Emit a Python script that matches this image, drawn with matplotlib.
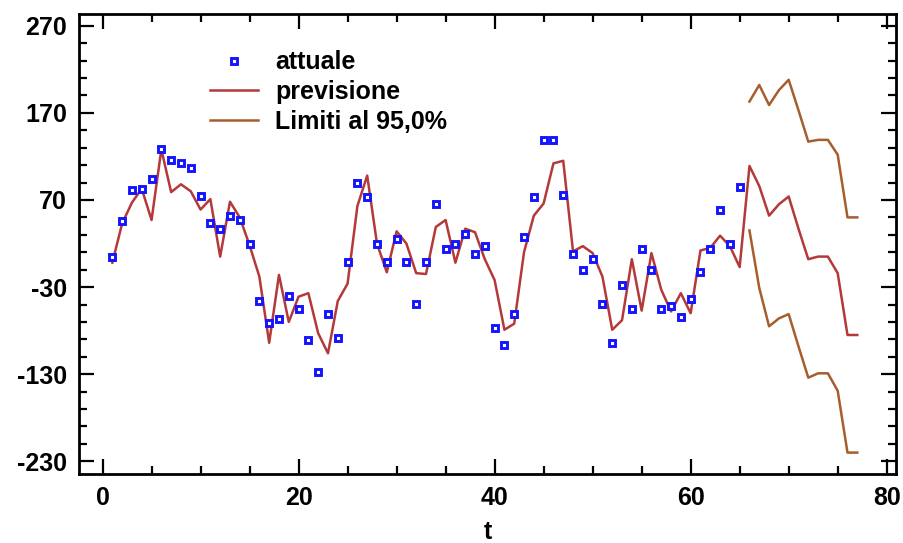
import matplotlib
matplotlib.use("Agg")
import matplotlib.pyplot as plt
from matplotlib.ticker import MultipleLocator, FixedLocator

# ---- data ----
t_actual = list(range(1, 66))
actual = [5, 46, 82, 83, 94, 128, 116, 113, 107, 74,
          43, 37, 52, 47, 20, -46, -71, -67, -40, -55,
          -91, -128, -61, -89, -1, 89, 73, 20, -1, 25,
          -1, -49, -1, 65, 14, 19, 31, 8, 17, -77,
          -97, -61, 28, 73, 139, 139, 76, 8, -10, 2,
          -49, -94, -28, -55, 14, -10, -55, -52, -64, -44,
          -13, 14, 59, 19, 85]

t_forecast = list(range(1, 78))
forecast = [-2, 43, 67, 83, 47, 128, 79, 88, 80, 59,
            71, 5, 68, 50, 18, -18, -94, -16, -70, -41,
            -37, -83, -106, -46, -26, 63, 98, 20, -13, 34,
            20, -14, -15, 39, 47, -2, 37, 33, 2, -22,
            -79, -72, 10, 52, 66, 112, 115, 11, 17, 9,
            -18, -79, -68, 2, -57, 9, -33, -58, -37, -60,
            12, 15, 29, 17, -7,
            109, 86, 52, 65, 74, 37, 2, 5, 5, -14, -85, -85]

t_limits = list(range(66, 78))
upper = [183, 202, 179, 196, 208, 173, 137, 139, 139, 122, 50, 50]
lower = [35, -31, -75, -66, -61, -98, -134, -129, -129, -149, -220, -220]

xticks = [0, 20, 40, 60, 80]
yticks = [-230, -130, -30, 70, 170, 270]

# ---- style ----
plt.rcParams['font.family'] = ['Liberation Sans', 'DejaVu Sans']
plt.rcParams['font.weight'] = 'bold'
plt.rcParams['axes.unicode_minus'] = False

W, H = 904, 543
fig = plt.figure(figsize=(W/100, H/100), dpi=100)
L, R, T, B = 79.5, 896.5, 14, 473.5
ax = fig.add_axes([L/W, 1-B/H, (R-L)/W, (B-T)/H])

red = '#B3393A'
brown = '#A65E2E'

ax.plot(t_actual, actual, linestyle='none', marker='s', markersize=4.3,
        markerfacecolor='white', markeredgecolor='#1414FF', markeredgewidth=2.1,
        label='attuale', zorder=3)
ax.plot(t_forecast, forecast, color=red, linewidth=1.8, label='previsione', zorder=2)
ax.plot(t_limits, upper, color=brown, linewidth=1.8, label='Limiti al 95,0%', zorder=2)
ax.plot(t_limits, lower, color=brown, linewidth=1.8, zorder=2)

ax.set_xlim(-2.35, 81.0)
ax.set_ylim(-244, 283.5)

ax.xaxis.set_major_locator(FixedLocator(xticks))
ax.xaxis.set_minor_locator(MultipleLocator(5))
ax.yaxis.set_major_locator(FixedLocator(yticks))
ax.yaxis.set_minor_locator(FixedLocator([v for v in range(-250, 290, 20)]))

ax.tick_params(which='both', direction='in', top=True, right=True, width=1.6,
               labelsize=18, colors='black')
ax.tick_params(which='major', length=11)
ax.tick_params(which='minor', length=6)
for lab in ax.get_xticklabels() + ax.get_yticklabels():
    lab.set_fontweight('bold')
ax.tick_params(axis='x', pad=9)
ax.tick_params(axis='y', pad=9)

for s in ax.spines.values():
    s.set_linewidth(2)
    s.set_color('black')

ax.set_xlabel('t', fontsize=18, fontweight='bold', labelpad=7)

leg = ax.legend(loc='upper left', bbox_to_anchor=(0.16, 0.921), frameon=False,
                handlelength=1.92, handletextpad=0.68, labelspacing=0.23,
                borderaxespad=0, borderpad=0, prop={'weight': 'bold', 'size': 18})

fig.savefig('out.png', dpi=100)
